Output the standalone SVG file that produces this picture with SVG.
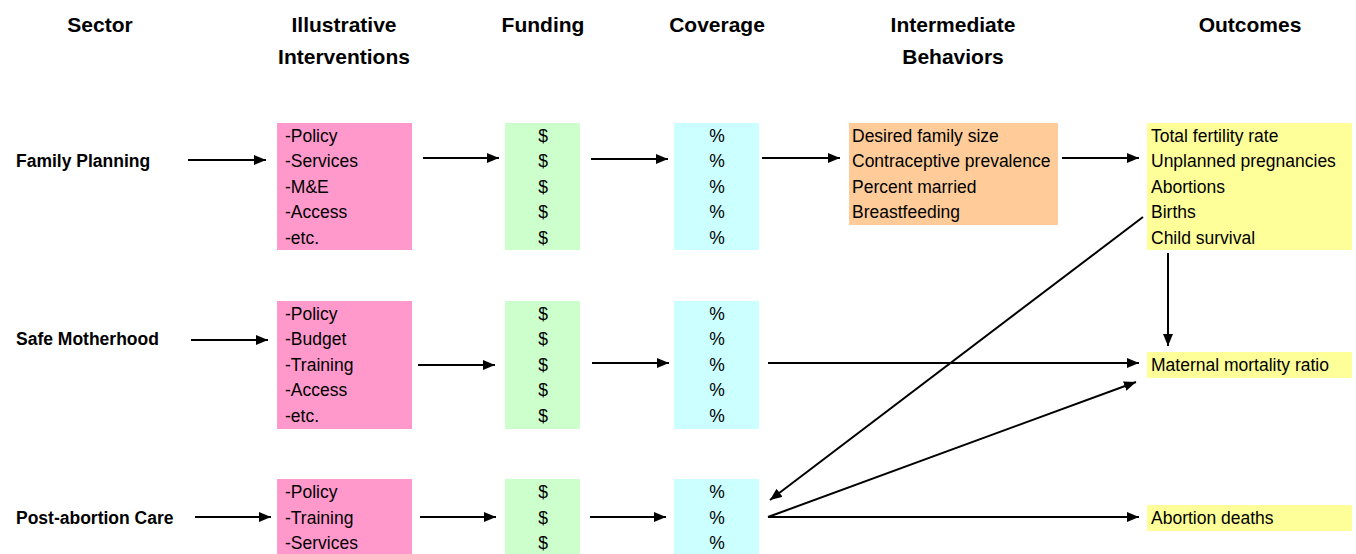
<svg xmlns="http://www.w3.org/2000/svg" width="1356" height="554" viewBox="0 0 1356 554">
<defs>
<marker id="ah" markerWidth="12" markerHeight="10" refX="12" refY="5" orient="auto" markerUnits="userSpaceOnUse">
<path d="M0,0 L12,5 L0,10 Z" fill="#000"/>
</marker>
<style>
text{font-family:"Liberation Sans",Arial,sans-serif;fill:#000}
.h{font-size:21px;font-weight:bold;text-anchor:middle}
.s{font-size:17.5px;font-weight:bold}
.t{font-size:17.5px}
.c{text-anchor:middle}
.pink{fill:#FF99CC}.green{fill:#CCFFCC}.cyan{fill:#CCFFFF}.orange{fill:#FFCC99}.yellow{fill:#FFFF99}
.ln{stroke:#000;stroke-width:2;fill:none;marker-end:url(#ah)}
</style>
</defs>
<rect width="1356" height="554" fill="#fff"/>
<g id="headers">
<text class="h" x="100" y="32">Sector</text>
<text class="h" x="344" y="32">Illustrative</text>
<text class="h" x="344" y="64">Interventions</text>
<text class="h" x="543" y="32">Funding</text>
<text class="h" x="717" y="32">Coverage</text>
<text class="h" x="953" y="32">Intermediate</text>
<text class="h" x="953" y="64">Behaviors</text>
<text class="h" x="1250" y="32">Outcomes</text>
</g>
<g id="sector-fp"><text class="s" x="16" y="167">Family Planning</text></g>
<g id="sector-sm"><text class="s" x="16" y="345">Safe Motherhood</text></g>
<g id="sector-pac"><text class="s" x="16" y="524">Post-abortion Care</text></g>

<g id="int-fp">
<rect class="pink" x="277" y="123" width="135" height="127"/>
<text class="t" x="285" y="142">-Policy</text>
<text class="t" x="285" y="167">-Services</text>
<text class="t" x="285" y="193">-M&amp;E</text>
<text class="t" x="285" y="218">-Access</text>
<text class="t" x="285" y="244">-etc.</text>
</g>
<g id="fund-fp">
<rect class="green" x="505" y="123" width="75" height="127"/>
<text class="t c" x="543" y="142">$</text><text class="t c" x="543" y="167">$</text><text class="t c" x="543" y="193">$</text><text class="t c" x="543" y="218">$</text><text class="t c" x="543" y="244">$</text>
</g>
<g id="cov-fp">
<rect class="cyan" x="674" y="123" width="85" height="127"/>
<text class="t c" x="717" y="142">%</text><text class="t c" x="717" y="167">%</text><text class="t c" x="717" y="193">%</text><text class="t c" x="717" y="218">%</text><text class="t c" x="717" y="244">%</text>
</g>
<g id="beh-fp">
<rect class="orange" x="849" y="123" width="209" height="102"/>
<text class="t" x="852" y="142">Desired family size</text>
<text class="t" x="852" y="167">Contraceptive prevalence</text>
<text class="t" x="852" y="193">Percent married</text>
<text class="t" x="852" y="218">Breastfeeding</text>
</g>
<g id="out-fp">
<rect class="yellow" x="1147" y="123" width="205" height="127"/>
<text class="t" x="1151" y="142">Total fertility rate</text>
<text class="t" x="1151" y="167">Unplanned pregnancies</text>
<text class="t" x="1151" y="193">Abortions</text>
<text class="t" x="1151" y="218">Births</text>
<text class="t" x="1151" y="244">Child survival</text>
</g>

<g id="int-sm">
<rect class="pink" x="277" y="301" width="135" height="128"/>
<text class="t" x="285" y="320">-Policy</text>
<text class="t" x="285" y="345">-Budget</text>
<text class="t" x="285" y="371">-Training</text>
<text class="t" x="285" y="396">-Access</text>
<text class="t" x="285" y="422">-etc.</text>
</g>
<g id="fund-sm">
<rect class="green" x="505" y="301" width="75" height="128"/>
<text class="t c" x="543" y="320">$</text><text class="t c" x="543" y="345">$</text><text class="t c" x="543" y="371">$</text><text class="t c" x="543" y="396">$</text><text class="t c" x="543" y="422">$</text>
</g>
<g id="cov-sm">
<rect class="cyan" x="674" y="301" width="85" height="128"/>
<text class="t c" x="717" y="320">%</text><text class="t c" x="717" y="345">%</text><text class="t c" x="717" y="371">%</text><text class="t c" x="717" y="396">%</text><text class="t c" x="717" y="422">%</text>
</g>
<g id="out-sm">
<rect class="yellow" x="1147" y="352" width="205" height="26"/>
<text class="t" x="1151" y="371">Maternal mortality ratio</text>
</g>

<g id="int-pac">
<rect class="pink" x="277" y="479" width="135" height="75"/>
<text class="t" x="285" y="498">-Policy</text>
<text class="t" x="285" y="524">-Training</text>
<text class="t" x="285" y="549">-Services</text>
</g>
<g id="fund-pac">
<rect class="green" x="505" y="479" width="75" height="75"/>
<text class="t c" x="543" y="498">$</text><text class="t c" x="543" y="524">$</text><text class="t c" x="543" y="549">$</text>
</g>
<g id="cov-pac">
<rect class="cyan" x="674" y="479" width="85" height="75"/>
<text class="t c" x="717" y="498">%</text><text class="t c" x="717" y="524">%</text><text class="t c" x="717" y="549">%</text>
</g>
<g id="out-pac">
<rect class="yellow" x="1147" y="505" width="205" height="26"/>
<text class="t" x="1151" y="524">Abortion deaths</text>
</g>

<g id="connectors">
<line class="ln" x1="188" y1="160" x2="266" y2="160"/>
<line class="ln" x1="423" y1="158" x2="499" y2="158"/>
<line class="ln" x1="591" y1="159" x2="668" y2="159"/>
<line class="ln" x1="762" y1="158" x2="840" y2="158"/>
<line class="ln" x1="1062" y1="158" x2="1139" y2="158"/>
<line class="ln" x1="191" y1="340" x2="268" y2="340"/>
<line class="ln" x1="418" y1="365" x2="495" y2="365"/>
<line class="ln" x1="592" y1="363" x2="669" y2="363"/>
<line class="ln" x1="768" y1="363" x2="1139" y2="363"/>
<line class="ln" x1="195" y1="517" x2="271" y2="517"/>
<line class="ln" x1="420" y1="517" x2="496" y2="517"/>
<line class="ln" x1="590" y1="517" x2="666" y2="517"/>
<line class="ln" x1="768" y1="517" x2="1139" y2="517"/>
<line class="ln" x1="768" y1="517" x2="1136" y2="382"/>
<line class="ln" x1="1143" y1="217" x2="770" y2="500"/>
<line class="ln" x1="1168" y1="253" x2="1168" y2="346"/>
</g>
</svg>
